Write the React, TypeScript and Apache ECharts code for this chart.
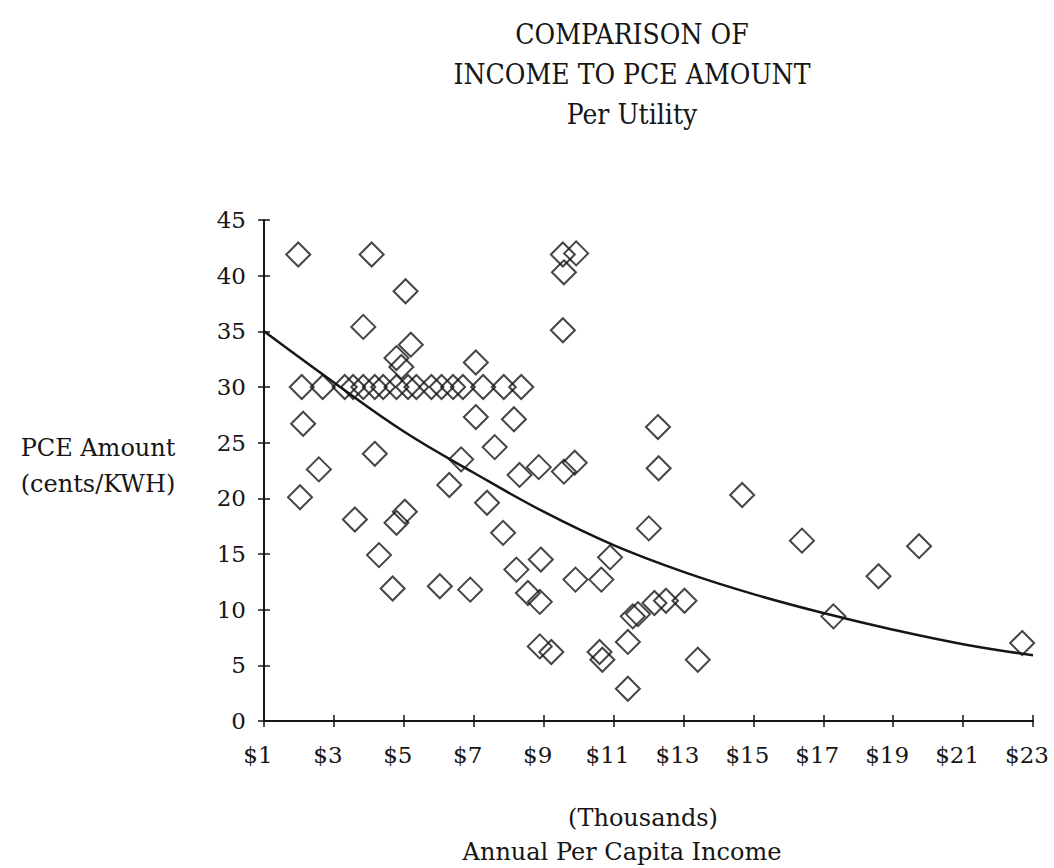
import React, { useEffect, useRef } from "react";
import * as echarts from "echarts";

const titleLines = ["COMPARISON OF", "INCOME TO PCE AMOUNT", "Per Utility"];
const yAxisNameLines = ["PCE Amount", "(cents/KWH)"];
const xAxisNameLines = ["(Thousands)", "Annual Per Capita Income"];

// Annual per capita income (thousands $) for each utility
const incomeValues = [
  1.98, 4.08, 5.05, 3.84, 5.2, 4.79, 4.93, 7.06,
  2.08, 2.68, 3.31, 3.55, 3.84, 4.17, 4.41, 4.79, 5.12, 5.36, 5.79, 6.08, 6.41, 6.69, 7.27, 7.86, 8.36,
  2.12, 7.06, 8.15, 4.17, 7.6, 2.57, 6.64, 8.31, 8.86, 6.3, 2.03, 7.38, 3.6, 5.03, 4.79, 7.84,
  4.29, 8.22, 8.92, 4.68, 6.03, 6.9, 8.55, 8.89, 8.89, 9.22,
  9.55, 9.93, 9.58, 9.55, 12.27, 12.29, 9.58, 9.89, 14.68, 12.01, 16.39, 10.9, 9.91, 10.65,
  12.17, 12.5, 13.03, 11.55, 11.7, 11.41, 13.41, 10.6, 10.68, 11.41,
  19.74, 18.58, 17.29, 22.69,
];
// PCE amount (cents/KWH) for each utility
const pceValues = [
  41.9, 41.9, 38.6, 35.4, 33.8, 32.6, 31.8, 32.2,
  30, 30, 30, 30, 30, 30, 30, 30, 30, 30, 30, 30, 30, 30, 30, 30, 30,
  26.7, 27.3, 27.1, 24.0, 24.6, 22.6, 23.5, 22.1, 22.8, 21.2, 20.1, 19.6, 18.1, 18.8, 17.8, 16.9,
  14.9, 13.6, 14.5, 11.9, 12.1, 11.8, 11.5, 10.7, 6.7, 6.2,
  41.9, 42.0, 40.3, 35.1, 26.4, 22.7, 22.4, 23.2, 20.3, 17.3, 16.2, 14.7, 12.7, 12.7,
  10.6, 10.8, 10.8, 9.4, 9.6, 7.1, 5.5, 6.2, 5.5, 2.9,
  15.7, 13.0, 9.4, 7.0,
];

// Trend curve
const trendIncome = [1, 3, 5, 7, 9, 11, 13, 15, 17, 19, 21, 23];
const trendPce = [35, 30.4, 26.0, 22.3, 18.8, 15.8, 13.4, 11.4, 9.7, 8.2, 6.9, 5.9];

const xTickMin = 1;
const xTickMax = 23;
const xTickStep = 2;
const yTickMin = 0;
const yTickMax = 45;
const yTickStep = 5;

const serif = "'DejaVu Serif', serif";
const titleFont = "'DejaVu Serif Condensed', 'Liberation Serif', serif";
const ink = "#161616";

export default function App() {
  const ref = useRef<HTMLDivElement>(null);

  useEffect(() => {
    document.body.style.margin = "0";
    if (!ref.current) return;
    const chart = echarts.init(ref.current, null, { renderer: "svg" });

    const scatterData = incomeValues.map((x, i) => [x, pceValues[i]]);
    const trendData = trendIncome.map((x, i) => [x, trendPce[i]]);

    const tickLabelStyle = {
      fontFamily: serif,
      fontSize: 23,
      color: ink,
    };

    const baseX = {
      type: "value",
      min: xTickMin,
      max: xTickMax,
      interval: xTickStep,
      splitLine: { show: false },
      axisLine: { show: true, onZero: false, lineStyle: { color: ink, width: 2 } },
    };
    const baseY = {
      type: "value",
      min: yTickMin,
      max: yTickMax,
      interval: yTickStep,
      splitLine: { show: false },
      axisLine: { show: true, onZero: false, lineStyle: { color: ink, width: 2 } },
    };

    const graphics: any[] = [];
    titleLines.forEach((t, i) => {
      graphics.push({
        type: "text",
        x: 632,
        y: 34 + i * 40,
        style: {
          text: t,
          font: `28px ${titleFont}`,
          fill: ink,
          textAlign: "center",
          textVerticalAlign: "middle",
        },
      });
    });
    yAxisNameLines.forEach((t, i) => {
      graphics.push({
        type: "text",
        x: 98,
        y: 448 + i * 36,
        style: {
          text: t,
          font: `24px ${serif}`,
          fill: ink,
          textAlign: "center",
          textVerticalAlign: "middle",
        },
      });
    });
    xAxisNameLines.forEach((t, i) => {
      graphics.push({
        type: "text",
        x: i === 0 ? 643 : 622,
        y: 818 + i * 34,
        style: {
          text: t,
          font: `24px ${serif}`,
          fill: ink,
          textAlign: "center",
          textVerticalAlign: "middle",
        },
      });
    });

    chart.setOption({
      animation: false,
      backgroundColor: "#ffffff",
      grid: { left: 264, right: 21, top: 220, bottom: 147 },
      xAxis: [
        {
          ...baseX,
          axisTick: { show: true, inside: false, length: 6, lineStyle: { color: ink, width: 1.5 } },
          axisLabel: {
            ...tickLabelStyle,
            margin: 22,
            padding: [0, 12, 0, 0],
            formatter: (v: number) => "$" + v,
          },
        },
        {
          ...baseX,
          position: "bottom",
          axisTick: { show: true, inside: true, length: 6, lineStyle: { color: ink, width: 1.5 } },
          axisLabel: { show: false },
        },
      ],
      yAxis: [
        {
          ...baseY,
          axisTick: { show: true, inside: false, length: 6, lineStyle: { color: ink, width: 1.5 } },
          axisLabel: { ...tickLabelStyle, margin: 18 },
        },
        {
          ...baseY,
          position: "left",
          axisTick: { show: true, inside: true, length: 6, lineStyle: { color: ink, width: 1.5 } },
          axisLabel: { show: false },
        },
      ],
      graphic: graphics,
      series: [
        {
          type: "line",
          data: trendData,
          smooth: 0.4,
          symbol: "none",
          lineStyle: { color: ink, width: 2.5 },
          z: 2,
        },
        {
          type: "scatter",
          data: scatterData,
          symbol: "diamond",
          symbolSize: [24, 24],
          itemStyle: { color: "rgba(255,255,255,0)", borderColor: ink, borderWidth: 2 },
          z: 3,
        },
      ],
    });

    return () => chart.dispose();
  }, []);

  return <div ref={ref} style={{ width: 1054, height: 868 }} />;
}
